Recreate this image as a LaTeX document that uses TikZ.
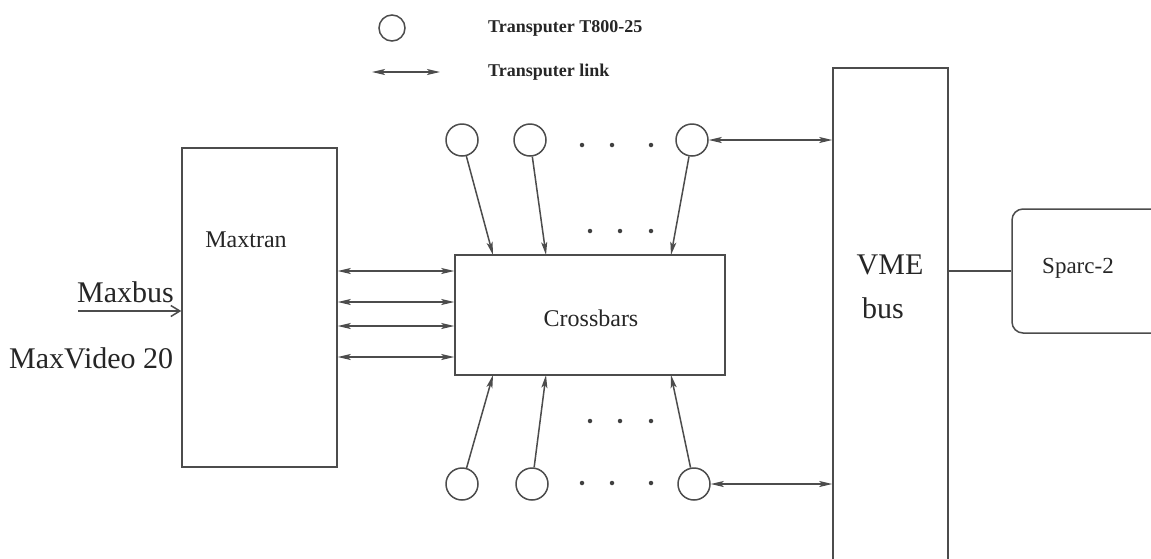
\documentclass[tikz,border=0pt]{standalone}
\usepackage{fontspec}
\setmainfont{Liberation Serif}
\usetikzlibrary{arrows.meta}
\tikzset{
  ln/.style={draw=black!70, line width=1.5pt},
  blk/.style={ln, rectangle, inner sep=0pt},
  tp/.style={ln, circle, minimum size=32pt, inner sep=0pt},
  arr/.style={ln, -{Stealth[length=13pt,width=6pt,inset=3pt]}},
  darr/.style={ln, {Stealth[length=13pt,width=6pt,inset=3pt]}-{Stealth[length=13pt,width=6pt,inset=3pt]}},
  dotm/.style={circle, fill=black!75, inner sep=0pt, minimum size=4.5pt},
  lbl/.style={inner sep=0pt, text=black!85},
}
\begin{document}
\begin{tikzpicture}[x=1pt,y=-1pt]
\useasboundingbox (0,0) rectangle (1151,558);
\clip (0,0) rectangle (1151,558);
\fill[white] (0,0) rectangle (1151,558);

% legend
\node[ln, circle, minimum size=26pt, inner sep=0pt] (lc) at (392,28) {};
\node[lbl, anchor=west, font=\bfseries\fontsize{18}{21}\selectfont] (lt1) at (488,28) {Transputer T800-25};
\coordinate (la1) at (372,72);
\coordinate (la2) at (440,72);
\draw[darr] (la1) -- (la2);
\node[lbl, anchor=west, font=\bfseries\fontsize{18}{21}\selectfont] (lt2) at (488,72) {Transputer link};

% boxes
\node[blk, minimum width=155pt, minimum height=319pt] (mx) at (259.5,307.5) {};
\node[lbl, font=\fontsize{24}{27}\selectfont] (mxl) at (246,240) {Maxtran};
\node[blk, minimum width=270pt, minimum height=120pt] (cb) at (590,315) {};
\node[lbl, font=\fontsize{24}{27}\selectfont] (cbl) at (591,318) {Crossbars};
\node[blk, minimum width=115pt, minimum height=540pt] (vme) at (890.5,338) {};
\node[lbl, font=\fontsize{30}{34}\selectfont] (vmel) at (890,265) {VME};
\node[lbl, font=\fontsize{30}{34}\selectfont] (busl) at (883,308) {bus};
\node[blk, rounded corners=11pt, minimum width=170pt, minimum height=124pt] (sp) at (1097,271) {};
\node[lbl, font=\fontsize{23}{26}\selectfont] (spl) at (1078,268) {Sparc-2};
\draw[ln] (vme.east |- sp.west) -- (sp.west);

% Maxbus / MaxVideo 20
\node[lbl, anchor=base east, font=\fontsize{30}{34}\selectfont] (mb) at (174,302) {Maxbus};
\coordinate (mbs) at (78,311);
\draw[ln, -{Straight Barb[length=9pt,width=11pt]}] (mbs) -- (mx.west |- mbs);
\node[lbl, anchor=base west, font=\fontsize{30}{34}\selectfont] (mv) at (9,368) {MaxVideo 20};

% Maxtran - Crossbars links
\foreach \yy in {271,302,326,357}{
  \draw[darr] (mx.east |- 0,\yy) -- (cb.west |- 0,\yy);
}

% transputers top
\node[tp] (t1) at (462,140) {};
\node[tp] (t2) at (530,140) {};
\node[tp] (t3) at (692,140) {};
\coordinate (e1) at (493,255);
\coordinate (e2) at (546,255);
\coordinate (e3) at (671,255);
\draw[arr] (t1) -- (e1);
\draw[arr] (t2) -- (e2);
\draw[arr] (t3) -- (e3);
\draw[darr] (t3.east) -- (vme.west |- t3.east);

% transputers bottom
\node[tp] (b1) at (462,484) {};
\node[tp] (b2) at (532,484) {};
\node[tp] (b3) at (694,484) {};
\coordinate (f1) at (493,375);
\coordinate (f2) at (546,375);
\coordinate (f3) at (671,375);
\draw[arr] (b1) -- (f1);
\draw[arr] (b2) -- (f2);
\draw[arr] (b3) -- (f3);
\draw[darr] (b3.east) -- (vme.west |- b3.east);

% dots
\foreach \xx in {582,612,651}{ \node[dotm] at (\xx,145) {}; \node[dotm] at (\xx,483) {}; }
\foreach \xx in {590,620,651}{ \node[dotm] at (\xx,231) {}; \node[dotm] at (\xx,421) {}; }
\end{tikzpicture}
\end{document}
